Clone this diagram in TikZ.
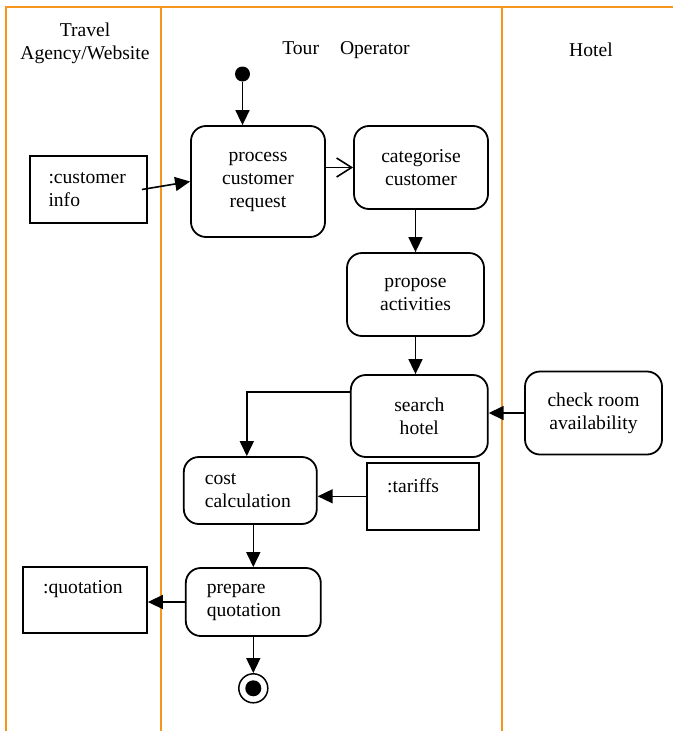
\documentclass[tikz,border=0pt]{standalone}
\usepackage{fontspec}
\setmainfont{Liberation Serif}
\usepackage{tikz}
\usetikzlibrary{arrows.meta,calc}
\definecolor{laneorange}{RGB}{247,150,30}
\tikzset{
  lane/.style={line width=2pt, color=laneorange},
  action/.style={draw, line width=1.8pt, rounded corners=15pt, align=center},
  objbox/.style={draw, line width=1.8pt},
  flow/.style={line width=1.6pt, -{Triangle[length=15pt,width=14pt]}},
  openflow/.style={line width=1.6pt, -{Straight Barb[length=15pt,width=19pt,line width=1.6pt]}},
  plain/.style={inner sep=0pt, align=left}
}

\begin{document}
\begin{tikzpicture}[x=1pt, y=-1pt, font=\fontsize{19.6}{23}\selectfont]
			%%%%% START %%%%%
			\useasboundingbox (0,0) rectangle (673,731);
			
			% swimlanes
			\draw[lane] (6,731) -- (6,7) -- (673,7);
			\draw[lane] (161,7) -- (161,731);
			\draw[lane] (502,7) -- (502,731);
			
			\node[align=center] (laneagency) at (85,43) {Travel\\Agency/Website};
			\node (laneoperator) at (346,50) {Tour\hspace{21pt}Operator};
			\node (lanehotel) at (591,50) {Hotel};
			
			% start and end
			\node[circle, fill=black, minimum size=15pt, inner sep=0pt] (start) at (242.5,74) {};
			\node[circle, draw, line width=1.5pt, minimum size=29pt, inner sep=0pt] (final) at (253.3,688.3) {};
			\node[circle, fill=black, minimum size=16pt, inner sep=0pt] (finaldot) at (final) {};
			
			% actions
			\node[action, minimum width=134pt, minimum height=111pt] (process) at (258,181.5) {process\\customer\\request};
			\node[action, minimum width=134pt, minimum height=83pt] (categorise) at (421,167.5) {categorise\\customer};
			\node[action, minimum width=137pt, minimum height=83pt] (propose) at (415.5,294.5) {propose\\activities};
			\node[action, minimum width=137pt, minimum height=82pt] (search) at (419.3,416) {search\\hotel};
			\node[action, minimum width=137pt, minimum height=83pt] (check) at (593.5,413) {check room\\availability};
			\node[action, minimum width=133pt, minimum height=67pt, align=left, text width=91pt] (cost) at (250.3,490.5) {cost\\calculation};
			\node[action, minimum width=135pt, minimum height=68pt, align=left, text width=93pt] (prepare) at (253.3,602) {prepare\\quotation};
			
			% objects
			\node[objbox, minimum width=117pt, minimum height=67pt, align=left, text width=80pt] (info) at (88.5,189.5) {:customer\\info};
			\node[objbox, minimum width=112pt, minimum height=67pt] (tariffs) at (423,496.3) {};
			\node[plain, anchor=west] (tariffstext) at (387,486) {:tariffs};
			\node[objbox, minimum width=124pt, minimum height=66pt] (quotation) at (85,600) {};
			\node[plain, anchor=west] (quotationtext) at (43,589) {:quotation};
			
			% flows
			\draw[flow] (start) -- (start |- process.north);
			\draw[flow] ([xshift=-6pt]info.east) -- (process.west);
			\draw[openflow] (categorise.west -| process.east) -- (categorise.west);
			\draw[flow] (categorise.south -| propose.north) -- (propose.north);
			\draw[flow] (propose.south) -- (propose.south |- search.north);
			\draw[flow] (check.west) -- (check.west -| search.east);
			\draw[flow] ([yshift=24pt]search.west) -| ([xshift=-3.5pt]cost.north);
			\draw[flow] (tariffs.west) -- (tariffs.west -| cost.east);
			\draw[flow] (cost.south -| prepare.north) -- (prepare.north);
			\draw[flow] (prepare.west) -- (prepare.west -| quotation.east);
			\draw[flow] (prepare.south -| final.north) -- (final.north);
			
			%%%%% END %%%%%
\end{tikzpicture}
\end{document}
